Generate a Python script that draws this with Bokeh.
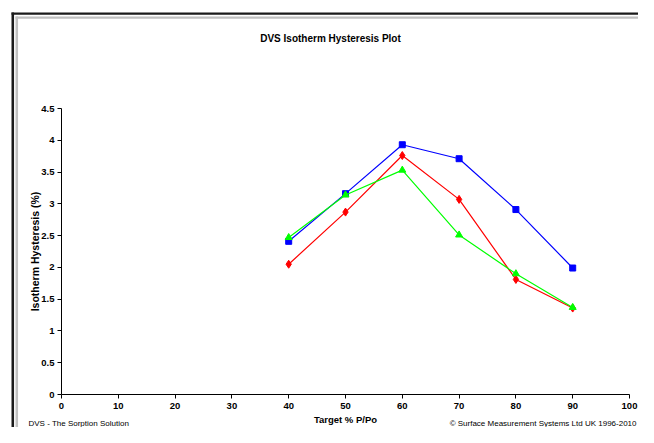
from bokeh.plotting import figure
from bokeh.models import Range1d, FixedTicker, Label
from bokeh.embed import file_html
from bokeh.resources import INLINE

# ---- data ----
target_pp = [40, 50, 60, 70, 80, 90]
series_blue = [2.41, 3.16, 3.93, 3.71, 2.91, 1.99]
series_red = [2.05, 2.87, 3.76, 3.07, 1.81, 1.36]
series_green = [2.47, 3.14, 3.53, 2.51, 1.90, 1.37]

x_ticks = [0, 10, 20, 30, 40, 50, 60, 70, 80, 90, 100]
y_ticks = [0, 0.5, 1, 1.5, 2, 2.5, 3, 3.5, 4, 4.5]
y_tick_labels = ["0", "0.5", "1", "1.5", "2", "2.5", "3", "3.5", "4", "4.5"]

title_text = "DVS Isotherm Hysteresis Plot"
x_title = "Target % P/Po"
y_title = "Isotherm Hysteresis (%)"
footer_left = "DVS - The Sorption Solution"
footer_right = "\u00a9 Surface Measurement Systems Ltd UK 1996-2010"

FONT = "Liberation Sans"

W, H = 638, 427
ML, MR, MT, MB = 61, 9, 108, 33

p = figure(width=W, height=H, output_backend="svg", toolbar_location=None,
           x_range=Range1d(0, 100), y_range=Range1d(0, 4.5),
           min_border_left=ML, min_border_right=MR, min_border_top=MT, min_border_bottom=MB)
p.outline_line_color = None
p.xgrid.visible = False
p.ygrid.visible = False
p.background_fill_color = "white"
p.border_fill_color = "white"

for ax in (p.xaxis[0], p.yaxis[0]):
    ax.axis_line_color = "black"
    ax.axis_line_width = 1
    ax.major_tick_line_color = "black"
    ax.major_tick_in = 0
    ax.major_tick_out = 4
    ax.minor_tick_line_color = None
    ax.major_label_text_font = FONT
    ax.major_label_text_font_style = "bold"
    ax.major_label_text_font_size = "9.5px"
    ax.major_label_text_color = "black"
    ax.axis_label_text_font = FONT
    ax.axis_label_text_font_style = "bold"
    ax.axis_label_text_color = "black"

p.xaxis[0].ticker = FixedTicker(ticks=x_ticks)
p.yaxis[0].ticker = FixedTicker(ticks=y_ticks)
p.yaxis[0].major_label_overrides = {t: l for t, l in zip(y_ticks, y_tick_labels)}
p.xaxis[0].axis_label = x_title
p.yaxis[0].axis_label = y_title
p.xaxis[0].axis_label_text_font_size = "9.5px"
p.yaxis[0].axis_label_text_font_size = "10.5px"
p.xaxis[0].major_label_standoff = 4
p.yaxis[0].major_label_standoff = 3
p.xaxis[0].axis_label_standoff = 2
p.yaxis[0].axis_label_standoff = -3

# series
p.line(target_pp, series_blue, line_color="#0000FF", line_width=1.2)
p.scatter(target_pp, series_blue, marker="square", size=6, fill_color="#0000FF", line_color="#0000FF")
p.line(target_pp, series_red, line_color="#FF0000", line_width=1.2)
p.scatter(target_pp, series_red, marker="diamond", size=8, fill_color="#FF0000", line_color="#FF0000")
p.line(target_pp, series_green, line_color="#00FF00", line_width=1.2)
p.scatter(target_pp, series_green, marker="triangle", size=7, fill_color="#00FF00", line_color="#00FF00")

# chart-area border (top/left edges): thin filled label boxes stretched by padding
def hbar(x, y, color):
    # horizontal strip up to the canvas' right edge, in the top panel
    return Label(x=x, y=y, x_units="canvas", y_units="canvas", text=" ",
                 text_font_size="2px", text_align="left", text_baseline="top",
                 padding=dict(left=0, right=int(W - x - 1), top=0, bottom=0),
                 background_fill_color=color, border_line_color=None)

def vbar(x, y, color):
    # vertical strip down to the canvas' bottom edge, in the left panel
    return Label(x=x, y=y, x_units="canvas", y_units="canvas", text=" ",
                 text_font_size="2px", text_align="left", text_baseline="top",
                 padding=dict(left=1, right=1, top=0, bottom=int(H - y)),
                 background_fill_color=color, border_line_color=None)

p.add_layout(hbar(11, 12, "#1a1a1a"), "above")
p.add_layout(vbar(11, 12, "#1a1a1a"), "left")
p.add_layout(hbar(15, 16, "#c0c0c0"), "above")
p.add_layout(vbar(15, 16, "#c0c0c0"), "left")

# texts, placed in canvas pixels inside a side panel (so they are not clipped to the frame)
p.add_layout(Label(x=330, y=38, x_units="canvas", y_units="canvas",
                   text=title_text, text_align="center", text_baseline="middle",
                   text_font=FONT, text_font_style="bold", text_font_size="10px",
                   text_color="black"), "above")
p.add_layout(Label(x=28, y=427, x_units="canvas", y_units="canvas",
                   text=footer_left, text_align="left", text_baseline="bottom",
                   text_font=FONT, text_font_size="8px", text_color="black"), "above")
p.add_layout(Label(x=636, y=427, x_units="canvas", y_units="canvas",
                   text=footer_right, text_align="right", text_baseline="bottom",
                   text_font=FONT, text_font_size="8px", text_color="black"), "above")

open("out.html", "w").write(file_html(p, INLINE))
